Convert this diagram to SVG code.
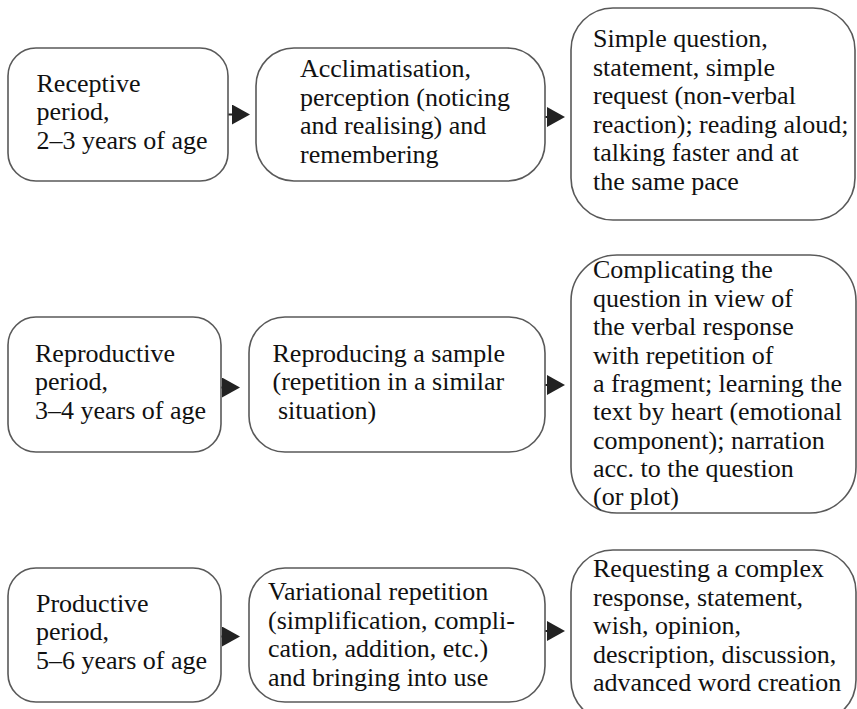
<svg xmlns="http://www.w3.org/2000/svg" width="857" height="709" viewBox="0 0 857 709">
<defs>
<style>
.box{fill:#fff;stroke:#595959;stroke-width:1.6}
.t{font-family:'Liberation Serif',Tinos,'Times New Roman','DejaVu Serif',serif;font-size:26px;fill:#111}
.c{stroke:#222;stroke-width:2;fill:none;marker-end:url(#ah)}
</style>
<marker id="ah" viewBox="0 0 18 20" refX="8" refY="10" markerWidth="18" markerHeight="20" markerUnits="userSpaceOnUse" orient="auto">
<path d="M0,0 L18,10 L0,20 Z" fill="#222"/>
</marker>
</defs>
<rect width="857" height="709" fill="#fff"/>
<g id="connectors">
<line class="c" x1="228" y1="114.5" x2="240" y2="114.5"/>
<line class="c" x1="545" y1="117" x2="555" y2="117"/>
<line class="c" x1="221" y1="387.5" x2="230" y2="387.5"/>
<line class="c" x1="545" y1="385" x2="555" y2="385"/>
<line class="c" x1="221" y1="636.5" x2="230" y2="636.5"/>
<line class="c" x1="545" y1="631" x2="555" y2="631"/>
</g>
<g font-family="Liberation Serif, serif">
<g id="receptive">
<rect class="box" x="8" y="48" width="220" height="133" rx="28" ry="28"/>
<text class="t" font-family="Liberation Serif"><tspan x="36.5" y="91.5">Receptive</tspan><tspan x="36.5" y="120">period,</tspan><tspan x="36.5" y="148.5">2–3 years of age</tspan></text>
</g>
<g id="acclimatisation">
<rect class="box" x="256" y="48" width="289" height="133" rx="38" ry="38"/>
<text class="t"><tspan x="300" y="77">Acclimatisation,</tspan><tspan x="300" y="105.5">perception (noticing</tspan><tspan x="300" y="134">and realising) and</tspan><tspan x="300" y="162.5">remembering</tspan></text>
</g>
<g id="simple-question">
<rect class="box" x="571" y="8" width="284" height="212" rx="42" ry="42"/>
<text class="t"><tspan x="593" y="47">Simple question,</tspan><tspan x="593" y="75.5">statement, simple</tspan><tspan x="593" y="104">request (non-verbal</tspan><tspan x="593" y="132.5">reaction); reading aloud;</tspan><tspan x="593" y="161">talking faster and at</tspan><tspan x="593" y="189.5">the same pace</tspan></text>
</g>
<g id="reproductive">
<rect class="box" x="8" y="317" width="213" height="135" rx="28" ry="28"/>
<text class="t"><tspan x="35" y="361.5">Reproductive</tspan><tspan x="35" y="390">period,</tspan><tspan x="35" y="418.5">3–4 years of age</tspan></text>
</g>
<g id="reproducing">
<rect class="box" x="249" y="317" width="296" height="135" rx="36" ry="36"/>
<text class="t"><tspan x="272.5" y="361.5">Reproducing a sample</tspan><tspan x="272.5" y="390">(repetition in a similar</tspan><tspan x="278" y="418.5">situation)</tspan></text>
</g>
<g id="complicating">
<rect class="box" x="571" y="255" width="285" height="258" rx="46" ry="46"/>
<text class="t"><tspan x="593" y="278">Complicating the</tspan><tspan x="593" y="306.5">question in view of</tspan><tspan x="593" y="335">the verbal response</tspan><tspan x="593" y="363.5">with repetition of</tspan><tspan x="593" y="392">a fragment; learning the</tspan><tspan x="593" y="420">text by heart (emotional</tspan><tspan x="593" y="448.5">component); narration</tspan><tspan x="593" y="477">acc. to the question</tspan><tspan x="593" y="505">(or plot)</tspan></text>
</g>
<g id="productive">
<rect class="box" x="8" y="568" width="213" height="134" rx="28" ry="28"/>
<text class="t"><tspan x="36" y="611.5">Productive</tspan><tspan x="36" y="640">period,</tspan><tspan x="36" y="668.5">5–6 years of age</tspan></text>
</g>
<g id="variational">
<rect class="box" x="249" y="568" width="296" height="134" rx="36" ry="36"/>
<text class="t"><tspan x="268" y="600">Variational repetition</tspan><tspan x="268" y="628.5">(simplification, compli-</tspan><tspan x="268" y="657">cation, addition, etc.)</tspan><tspan x="268" y="685.5">and bringing into use</tspan></text>
</g>
<g id="requesting">
<rect class="box" x="571" y="550" width="285" height="172" rx="42" ry="42"/>
<text class="t"><tspan x="593" y="577">Requesting a complex</tspan><tspan x="593" y="605.5">response, statement,</tspan><tspan x="593" y="634">wish, opinion,</tspan><tspan x="593" y="662.5">description, discussion,</tspan><tspan x="593" y="691">advanced word creation</tspan></text>
</g>
</g>
</svg>
